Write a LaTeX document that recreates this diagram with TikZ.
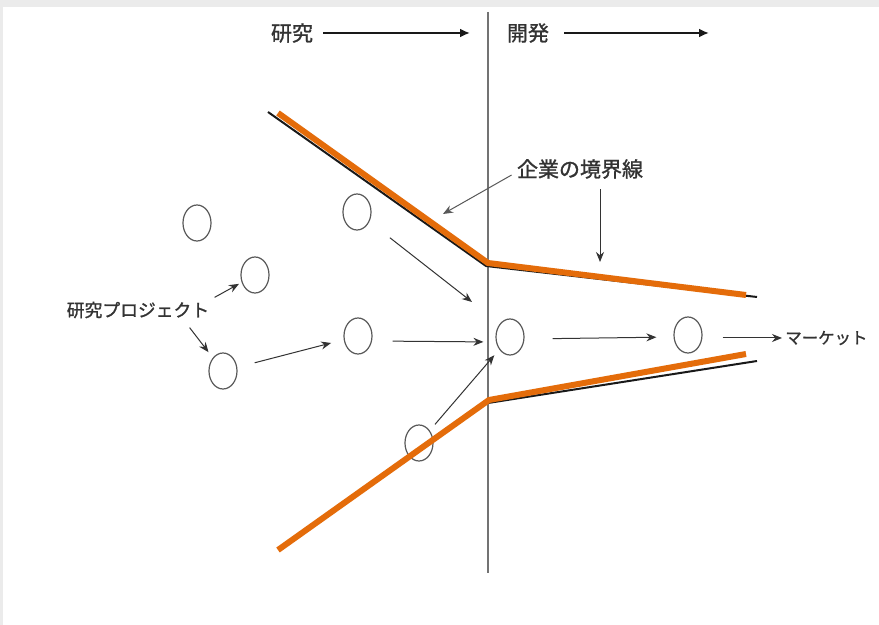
\documentclass[tikz,border=0pt]{standalone}
\usepackage{fontspec}
\newfontfamily\jp[FakeBold=1.2]{Noto Sans CJK JP}
\usetikzlibrary{arrows.meta,shapes.geometric}
\definecolor{borange}{RGB}{228,108,10}
\begin{document}
\begin{tikzpicture}[x=0.5pt,y=-0.5pt,
  proj/.style={draw=black!65, line width=0.6pt, ellipse, minimum width=14pt, minimum height=18pt, inner sep=0pt},
  arr/.style={-{Stealth[length=5pt,width=4pt]}, draw=black!80, line width=0.5pt},
  toparr/.style={-{Latex[length=5pt,width=4.5pt]}, draw=black!90, line width=1pt},
  lbl/.style={inner sep=0pt, text=black!80},
  bline/.style={draw=black!90, line width=1pt},
  oline/.style={draw=borange, line width=3pt}]
\useasboundingbox (0,0) rectangle (879,625);
\fill[white] (0,0) rectangle (879,625);
\fill[black!8] (0,0) rectangle (879,7);
\fill[black!8] (0,0) rectangle (3,625);

% vertical divider
\coordinate (vtop) at (488,12);
\coordinate (vbot) at (488,573);
\draw[black!55, line width=0.6pt] (vtop) -- (vbot);

% top labels
\node[lbl, font=\jp\fontsize{10.5}{11}\selectfont] (ken) at (292,33) {研究};
\node[lbl, font=\jp\fontsize{10.5}{11}\selectfont] (kai) at (528,33) {開発};
\coordinate (ta1) at (470,33);
\coordinate (ta2) at (709,33);
\draw[toparr, shorten <=5pt] (ken.east) -- (ta1);
\draw[toparr, shorten <=7.5pt] (kai.east) -- (ta2);

% circles
\node[proj] (c1) at (197,223) {};
\node[proj] (c2) at (255,275) {};
\node[proj] (c3) at (357,212) {};
\node[proj] (c4) at (358,336) {};
\node[proj] (c5) at (419,443) {};
\node[proj] (c6) at (223,371) {};
\node[proj] (c7) at (510,337) {};
\node[proj] (c8) at (688,335) {};

% boundaries
\coordinate (u0) at (268,112);
\coordinate (u1) at (486,266);
\coordinate (u2) at (757,297);
\coordinate (o0) at (278,113);
\coordinate (o1) at (488,263);
\coordinate (o2) at (746,295);
\coordinate (l1) at (488,403);
\coordinate (l2) at (757,361);
\coordinate (q0) at (278,550);
\coordinate (q1) at (489,400);
\coordinate (q2) at (746,354);
\draw[bline] (u0) -- (u1) -- (u2);
\draw[bline] (l1) -- (l2);
\draw[oline] (o0) -- (o1) -- (o2);
\draw[oline] (q0) -- (q1) -- (q2);

% labels
\node[lbl, font=\jp\fontsize{10.5}{11}\selectfont] (kb) at (580,169) {企業の境界線};
\node[lbl, font=\jp\fontsize{8.9}{10}\selectfont] (kp) at (138,310) {研究プロジェクト};
\node[lbl, font=\jp\fontsize{8.2}{9}\selectfont, anchor=west] (mkt) at (785,338) {マーケット};

% arrows
\coordinate (p1) at (472,302);
\coordinate (p2) at (443,214);
\coordinate (p3) at (600,262);
\draw[arr, shorten <=13pt] (c3) -- (p1);
\draw[arr, shorten <=10pt, shorten >=6pt] ([yshift=-2.5pt]c4.east) -- ([yshift=-2.5pt]c7.west);
\draw[arr, shorten <=9pt, shorten >=6.5pt] (c6) -- (c4);
\draw[arr, shorten <=4pt, shorten >=3.75pt] (c5) -- (c7);
\draw[arr, shorten <=14pt, shorten >=8.5pt] ([yshift=-1pt]c7.east) -- ([yshift=-1pt]c8.west);
\draw[arr, shorten <=10pt, shorten >=1.5pt] ([yshift=-1.5pt]c8.east) -- (mkt.west);
\draw[arr, shorten >=1.5pt] ([xshift=2.5pt,yshift=2pt]kp.north east) -- (c2);
\draw[arr, shorten >=3.5pt] ([xshift=-10pt,yshift=-4.5pt]kp.south east) -- (c6);
\draw[arr, draw=black!65] ([xshift=-2.5pt,yshift=-3pt]kb.west) -- (p2);
\draw[arr, shorten <=5pt] (kb.south -| p3) -- (p3);
\end{tikzpicture}
\end{document}
